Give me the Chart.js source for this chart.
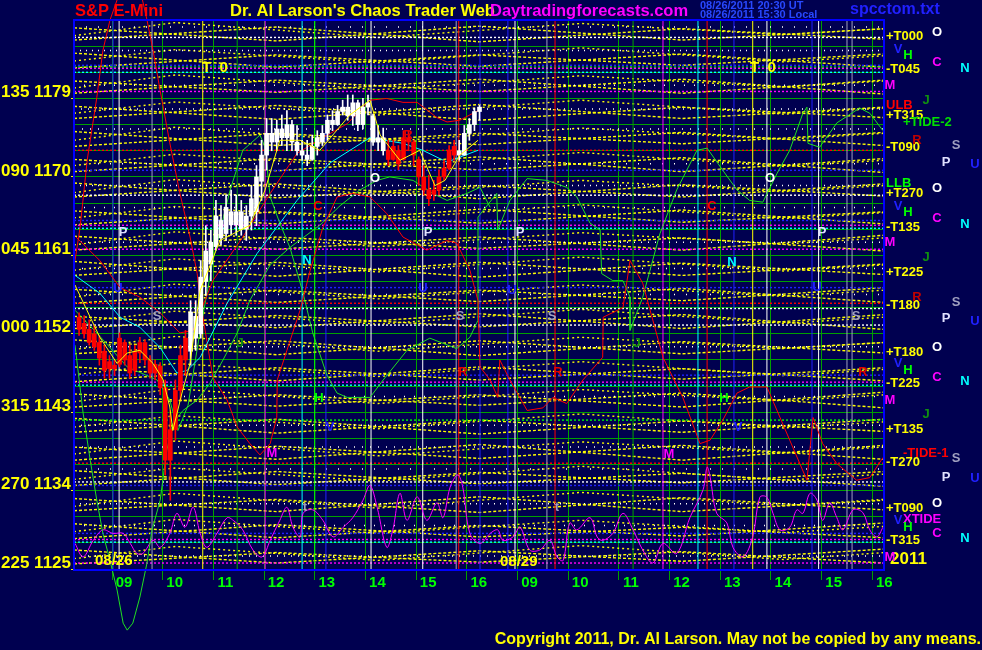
<!DOCTYPE html>
<html><head><meta charset="utf-8">
<script src="https://cdn.jsdelivr.net/npm/chart.js@4.4.0/dist/chart.umd.min.js"></script>
<style>html,body{margin:0;padding:0;background:#000050;overflow:hidden}#wrap{width:982px;height:650px;position:relative}</style>
</head><body><div id="wrap"><canvas id="c"></canvas></div>
<script>
// ---------- DATA ----------
const hourTicks = [0,1,2,3,4,5,6,7,8,9,10,11,12,13,14,15];
const hourLabels = ['09','10','11','12','13','14','15','16','09','10','11','12','13','14','15','16'];
const yLabelPrices = [1125,1134,1143,1152,1161,1170,1179];
const yLabelAngles = ['225','270','315','000','045','090','135'];
const gridPrices = [1125,1128,1131,1134,1137,1140,1143,1146,1149,1152,1155,1158,1161,1164,1167,1170,1173,1176,1179,1182,1185,1188];

const candleT = [-0.65,-0.55,-0.45,-0.35,-0.25,-0.15,-0.05,0.05,0.15,0.25,0.35,0.45,0.55,0.65,0.75,0.85,0.95,1.05,1.15,1.25,1.35,1.45,1.55,1.65,1.75,1.85,1.95,2.05,2.15,2.25,2.35,2.45,2.55,2.65,2.75,2.85,2.95,3.05,3.15,3.25,3.35,3.45,3.55,3.65,3.75,3.85,3.95,4.05,4.15,4.25,4.35,4.45,4.55,4.65,4.75,4.85,4.95,5.05,5.15,5.25,5.35,5.45,5.55,5.65,5.75,5.85,5.95,6.05,6.15,6.25,6.35,6.45,6.55,6.65,6.75,6.85,6.95,7.05,7.15,7.25];
const candleO = [1153.9,1153.2,1152.5,1152.0,1151.0,1150.0,1148.0,1148.4,1148.5,1151.0,1149.5,1147.8,1149.8,1151.0,1149.0,1147.5,1148.3,1145.8,1137.5,1141.0,1145.5,1149.0,1150.0,1154.0,1152.0,1158.0,1160.0,1162.0,1165.0,1163.5,1166.0,1164.5,1166.0,1164.0,1165.5,1166.0,1169.5,1172.5,1175.0,1174.0,1175.5,1174.5,1176.0,1174.0,1173.0,1172.5,1172.0,1173.5,1174.0,1175.0,1176.5,1176.0,1177.5,1178.0,1177.0,1178.5,1176.0,1178.0,1177.0,1174.0,1174.5,1173.0,1172.0,1173.0,1172.0,1174.5,1174.0,1172.0,1170.0,1168.5,1168.0,1168.5,1170.0,1171.0,1172.5,1173.0,1172.5,1175.0,1176.0,1177.5];
const candleH = [1154.4,1154.1,1153.6,1153.0,1151.8,1150.7,1149.5,1149.0,1152.1,1151.3,1150.7,1150.7,1151.6,1151.3,1149.5,1149.0,1148.7,1146.7,1143.2,1146.7,1150.7,1152.4,1155.8,1155.8,1160.4,1164.4,1163.9,1167.3,1166.7,1167.9,1168.5,1167.9,1167.3,1166.7,1169.0,1171.3,1174.2,1176.7,1176.7,1176.5,1177.1,1177.6,1176.5,1175.9,1174.2,1174.2,1174.8,1175.3,1175.9,1177.1,1177.6,1178.2,1178.8,1179.4,1179.4,1178.8,1179.0,1179.4,1177.2,1175.9,1175.6,1174.2,1174.2,1173.6,1175.3,1175.3,1174.2,1172.3,1171.3,1170.2,1169.6,1170.8,1171.9,1173.6,1174.2,1174.2,1175.9,1176.7,1177.9,1178.2];
const candleL = [1151.8,1151.5,1150.7,1150.1,1148.4,1146.9,1146.9,1147.2,1148.2,1148.4,1146.9,1147.2,1148.7,1148.4,1146.9,1146.7,1145.0,1135.8,1132.9,1139.8,1144.4,1147.2,1148.4,1150.1,1151.5,1156.4,1158.1,1161.6,1162.2,1162.7,1163.3,1163.3,1163.3,1162.7,1163.9,1164.4,1167.3,1170.8,1173.0,1173.0,1173.6,1173.0,1173.0,1172.5,1171.9,1171.3,1171.9,1172.5,1173.6,1174.2,1175.3,1175.9,1177.1,1176.5,1175.9,1175.3,1175.5,1177.1,1173.6,1173.0,1172.5,1171.3,1171.9,1170.8,1171.9,1173.0,1171.3,1169.0,1167.9,1166.7,1167.3,1167.9,1169.6,1170.8,1171.9,1171.9,1172.5,1174.2,1175.3,1176.5];
const candleC = [1152.5,1152.0,1151.0,1150.5,1149.2,1147.8,1148.8,1148.0,1151.5,1149.0,1147.5,1150.0,1151.0,1149.0,1147.5,1148.5,1145.8,1137.5,1141.0,1145.5,1149.5,1151.5,1154.5,1151.5,1158.5,1161.5,1162.5,1165.5,1163.0,1166.5,1164.5,1166.0,1164.0,1165.5,1167.5,1170.0,1172.5,1175.0,1174.0,1175.5,1174.5,1176.0,1174.0,1173.0,1172.5,1172.0,1173.5,1174.5,1175.0,1176.5,1176.0,1177.5,1178.0,1177.0,1178.5,1176.0,1178.0,1178.5,1174.0,1174.5,1173.0,1172.0,1173.5,1171.5,1174.5,1174.0,1172.5,1170.0,1168.5,1167.5,1168.5,1170.0,1171.0,1173.0,1173.5,1172.5,1175.0,1176.0,1177.5,1178.0];
const candleKind = ['R','R','R','R','R','R','R','R','R','R','R','R','R','R','R','R','R','R','R','R','R','R',
 'W','W','W','W','W','W','W','W','W','W','W','W','W','W','W','W','W','W','W','W','W','W','W','W','W','W','W','W','W','W','W','W','W','W','W','W','W','W','W',
 'R','R','R','R','R','R','R','R','R','R','R','R','R','R','W','W','W','W','W'];

const redFcX = [-0.73,-0.63,-0.49,-0.30,-0.18,-0.04,0.10,0.26,0.41,0.55,0.69,0.81,0.95,1.14,1.34,1.54,1.68,1.74,1.99,2.27,2.47,2.72,2.92,3.12,3.25,3.26,3.45,3.71,3.91,4.16,4.44,4.75,5.09,5.42,5.74,6.21,6.61,6.80,7.06,7.22,7.26,7.46,7.61,7.65,7.85,8.19,8.50,8.70,8.97,9.29,9.68,9.69,10.08,10.22,10.47,10.87,11.26,11.60,11.80,12.05,12.33,12.58,12.92,13.37,13.71,13.83,14.02,14.30,14.69,14.95,15.21];
const redFcY = [1160.4,1164.2,1171.9,1179.1,1184.5,1188.0,1190.3,1193.1,1193.7,1191.6,1188.0,1184.5,1179.9,1173.9,1168.1,1163.1,1158.9,1155.8,1147.0,1144.4,1141.3,1139.4,1138.1,1139.4,1142.4,1146.7,1150.1,1154.7,1159.3,1164.2,1167.7,1168.1,1167.7,1165.8,1163.1,1161.6,1162.7,1162.4,1159.3,1155.8,1148.2,1146.7,1144.7,1149.0,1146.7,1143.2,1143.5,1144.7,1144.0,1146.7,1149.3,1153.9,1155.0,1160.4,1157.8,1149.3,1144.7,1139.4,1139.8,1142.1,1145.2,1145.9,1145.9,1139.8,1135.2,1142.4,1139.4,1137.1,1135.2,1135.5,1137.8];
const redMaX = [-0.71,-0.24,0.16,0.55,0.95,1.34,1.60,1.99,2.58,3.12,3.65,4.16,4.64,5.09,5.42,5.74,6.02,6.41,6.61,6.86,7.22];
const redMaY = [1163.1,1160.4,1157.3,1156.2,1154.4,1152.1,1152.4,1158.1,1163.1,1168.1,1172.7,1174.5,1176.1,1178.8,1179.0,1178.55,1178.55,1176.8,1176.3,1176.5,1177.6];
const cyanX = [-0.73,-0.24,0.16,0.55,0.95,1.28,1.48,1.74,2.27,2.86,3.65,4.30,5.09,5.74,6.13,6.61,7.06,7.22];
const cyanY = [1158.7,1156.65,1153.9,1152.75,1150.4,1147.5,1147.8,1149.3,1155.5,1161.2,1167.3,1171.6,1174.5,1173.85,1173.05,1171.7,1172.7,1173.05];
const yellowX = [-0.73,-0.43,-0.24,0.10,0.30,0.55,0.81,1.01,1.14,1.20,1.38,1.54,1.74,2.13,2.72,3.02,3.31,3.71,4.10,4.69,5.09,5.29,5.68,6.07,6.37,6.57,6.86,7.22];
const yellowY = [1157.6,1153.9,1151.6,1148.6,1149.8,1150.1,1148.6,1146.7,1143.6,1140.9,1145.2,1148.6,1157.0,1162.7,1164.45,1168.5,1174.2,1174.2,1173.05,1177.1,1178.8,1174.8,1171.9,1173.05,1169.0,1169.6,1172.5,1174.2];
const greenAX = [-0.73,-0.57,-0.43,-0.30,-0.18,-0.04,0.10,0.22,0.30,0.41,0.55,0.69,0.79,0.95,1.08,1.20,1.40,1.68,1.93,2.19,2.47,2.72,3.12,3.51,4.10,4.50,4.89,5.23,5.48,5.94,6.33,6.61,7.00,7.26,7.46];
const greenAY = [1150.7,1142.9,1137.5,1132.9,1129.1,1126.0,1122.6,1118.8,1118.0,1118.8,1121.8,1125.7,1129.5,1132.9,1138.6,1141.7,1143.2,1144.4,1146.3,1149.0,1152.1,1155.85,1159.9,1161.9,1164.45,1166.7,1168.5,1169.6,1170.0,1169.6,1168.1,1167.3,1168.1,1168.8,1166.5];
const greenBX = [-0.73,-0.30,0.30,0.89,1.14,1.30,1.50,1.74,1.99,2.33,2.58,2.92,3.02,3.12,3.31,3.51,3.77,3.96,4.24,4.44,4.64,5.09,5.35,5.82,6.27,6.80,7.06,7.22,7.22,7.59,7.61,7.85,8.19,8.58,8.97,9.17,9.43,9.63,9.66,9.88,10.08,10.22,10.22,10.47,10.81,11.14,11.54,11.74,12.05,12.33,12.58,12.84,13.12,13.37,13.63,13.71,13.73,13.96,14.30,14.75,14.95,15.21];
const greenBY = [1154.7,1152.1,1148.2,1146.7,1144.4,1140.9,1143.8,1152.4,1160.4,1168.5,1173.05,1174.8,1173.4,1167.7,1164.7,1161.9,1156.65,1152.1,1147.25,1145.2,1144.7,1144.7,1146.7,1150.1,1151.5,1150.3,1151.6,1153.55,1165.4,1168.1,1163.9,1167.3,1169.8,1169.6,1168.8,1167.7,1164.7,1163.9,1158.9,1158.1,1158.1,1156.2,1152.4,1156.2,1163.5,1168.5,1173.05,1173.3,1170.75,1168.5,1167.3,1167.1,1170.4,1173.05,1177.3,1178.0,1173.85,1173.4,1176.2,1177.9,1177.3,1175.3];
const tideX = [-0.73,-0.57,-0.37,-0.18,0.02,0.22,0.36,0.49,0.61,0.81,0.95,1.14,1.28,1.44,1.60,1.74,1.87,2.07,2.27,2.39,2.58,2.78,2.96,3.12,3.31,3.45,3.57,3.71,3.77,3.96,4.16,4.36,4.56,4.75,4.95,5.09,5.23,5.42,5.54,5.68,5.82,6.02,6.21,6.41,6.53,6.67,6.82,6.92,7.06,7.26,7.46,7.61,7.71,7.91,8.05,8.24,8.44,8.64,8.78,8.90,9.03,9.17,9.43,9.57,9.68,9.88,10.08,10.28,10.47,10.67,10.87,11.14,11.40,11.66,11.74,11.80,11.93,12.13,12.25,12.45,12.64,12.78,12.92,13.04,13.18,13.37,13.51,13.63,13.77,13.91,14.02,14.16,14.30,14.42,14.62,14.81,14.95,15.09,15.21];
const tideY = [1127.95,1126.4,1128.3,1129.5,1129.1,1129.1,1127.95,1126.8,1126.8,1128.3,1127.5,1129.1,1131.4,1129.8,1132.1,1129.1,1127.5,1129.1,1130.9,1130.6,1129.5,1127.2,1126.4,1128.3,1130.6,1132.1,1129.8,1128.7,1131.4,1131.8,1130.6,1128.7,1129.8,1130.9,1132.9,1134.6,1132.1,1127.5,1129.5,1133.7,1130.6,1133.3,1130.6,1132.6,1130.9,1134.4,1135.8,1134.4,1129.1,1127.95,1129.1,1129.5,1128.3,1128.7,1129.8,1127.2,1127.2,1128.3,1126.4,1126.0,1130.3,1129.5,1130.9,1128.7,1128.3,1129.1,1131.4,1129.5,1127.2,1125.7,1127.95,1126.8,1130.9,1134.1,1136.7,1135.55,1131.4,1130.3,1127.5,1126.4,1128.7,1133.25,1133.25,1131.4,1129.5,1129.8,1131.8,1131.4,1133.7,1132.9,1130.6,1132.6,1130.9,1129.5,1131.8,1131.5,1129.5,1128.7,1129.8];

// vertical event lines (hour index), grouped by kind
const vWhite = [0.14,5.11,6.13,7.95,12.92,13.94];
const vGrey = [0.79,6.79,8.58,14.5,14.6];
const vBlue = [0.02,4.22,7.26,7.81,12.27,13.81];
const vYellow = [1.79,12.64];
const vGreen = [2.47,10.28];
const vBrightGreen = [4.0];
const vMagenta = [3.02,10.87];
const vCyan = [3.75,11.56];
const vRed = [6.84,8.74,11.74];
// horizontal level lines (price), grouped by kind
const hMagenta = [1182.45,1179.8,1164.45,1161.7,1146.45,1128.4,1125.7];
const hCyan = [1182.0,1164.1,1146.1,1128.1];
const hBlue = [1182.8,1170.75,1165.0,1157.3,1147.25,1134.6,1129.1];
const hWhite = [1186.0,1167.9,1154.9,1153.0,1135.0];
const hRed = [1173.05,1155.5,1137.15];
const hGreenDot = [1182.6,1142.1];
const hWhiteSpeck = [1126.5,1130.0,1132.5,1136.5,1139.0,1141.5,1144.8,1150.5,1156.5,1159.5,1162.5,1166.5,1169.0,1171.5,1175.5,1177.8,1180.5,1184.5,1187.2];
// yellow lattice lines
const latticeX = [-0.75,3.25,7.25,11.25,15.23];
const yellowLattice = [
 [1125.6,1126.9,1125.8,1127.0,1125.7],[1127.2,1125.7,1127.1,1125.9,1127.3],
 [1128.5,1130.1,1128.7,1129.8,1128.6],[1130.2,1128.6,1130.0,1128.8,1130.3],
 [1131.7,1133.0,1131.5,1133.2,1131.8],[1133.1,1131.6,1133.3,1131.6,1132.9],
 [1134.6,1136.2,1134.8,1136.0,1134.5],[1136.3,1134.7,1136.1,1134.9,1136.2],
 [1137.5,1139.1,1137.7,1139.2,1137.6],[1139.0,1137.6,1139.3,1137.5,1139.2],
 [1140.7,1142.2,1140.5,1142.0,1140.8],[1142.3,1140.6,1142.1,1140.7,1142.2],
 [1143.6,1145.0,1143.8,1145.2,1143.5],[1145.1,1143.7,1145.0,1143.6,1145.3],
 [1146.5,1148.1,1146.7,1148.0,1146.6],[1148.2,1146.6,1148.2,1146.8,1148.1],
 [1149.7,1151.2,1149.5,1151.1,1149.8],[1151.3,1149.6,1151.2,1149.7,1151.0],
 [1152.6,1154.1,1152.8,1154.2,1152.5],[1154.0,1152.7,1154.3,1152.6,1154.2],
 [1155.5,1157.0,1155.7,1157.2,1155.6],[1157.1,1155.6,1157.0,1155.8,1157.3],
 [1158.7,1160.2,1158.5,1160.1,1158.8],[1160.3,1158.6,1160.2,1158.7,1160.0],
 [1161.6,1163.1,1161.8,1163.0,1161.5],[1163.2,1161.7,1163.1,1161.6,1163.3],
 [1164.5,1166.0,1164.7,1166.2,1164.6],[1166.1,1164.6,1166.3,1164.8,1166.0],
 [1167.7,1169.2,1167.5,1169.1,1167.8],[1169.3,1167.6,1169.0,1167.7,1169.2],
 [1170.6,1172.1,1170.8,1172.2,1170.5],[1172.0,1170.7,1172.3,1170.6,1172.1],
 [1173.5,1175.0,1173.7,1175.1,1173.6],[1175.2,1173.6,1175.0,1173.8,1175.1],
 [1176.7,1178.2,1176.5,1178.0,1176.8],[1178.1,1176.6,1178.3,1176.7,1178.0],
 [1179.6,1181.1,1179.8,1181.2,1179.5],[1181.0,1179.7,1181.2,1179.6,1181.1],
 [1182.5,1184.0,1182.7,1184.1,1182.6],[1184.2,1182.6,1184.0,1182.8,1184.1],
 [1185.7,1187.2,1185.5,1187.0,1185.8],[1187.1,1185.6,1187.3,1185.7,1187.0]
];
const latticeX2 = [-0.75,1.25,5.25,9.25,13.25,15.23];
const yellowLattice2 = [
 [1126.2,1127.6,1126.0,1127.7,1126.1,1126.9],[1129.3,1130.7,1129.1,1130.6,1129.2,1129.9],
 [1132.2,1133.7,1132.0,1133.8,1132.3,1133.0],[1135.3,1136.6,1135.1,1136.8,1135.2,1135.9],
 [1138.2,1139.7,1138.0,1139.6,1138.3,1139.0],[1141.3,1142.6,1141.1,1142.8,1141.2,1141.9],
 [1144.2,1145.7,1144.0,1145.6,1144.3,1145.0],[1147.3,1148.6,1147.1,1148.8,1147.2,1147.9],
 [1150.2,1151.7,1150.0,1151.6,1150.3,1151.0],[1153.3,1154.6,1153.1,1154.8,1153.2,1153.9],
 [1156.2,1157.7,1156.0,1157.6,1156.3,1157.0],[1159.3,1160.6,1159.1,1160.8,1159.2,1159.9],
 [1162.2,1163.7,1162.0,1163.6,1162.3,1163.0],[1165.3,1166.6,1165.1,1166.8,1165.2,1165.9],
 [1168.2,1169.7,1168.0,1169.6,1168.3,1169.0],[1171.3,1172.6,1171.1,1172.8,1171.2,1171.9],
 [1174.2,1175.7,1174.0,1175.6,1174.3,1175.0],[1177.3,1178.6,1177.1,1178.8,1177.2,1177.9],
 [1180.2,1181.7,1180.0,1181.6,1180.3,1181.0],[1183.3,1184.6,1183.1,1184.8,1183.2,1183.9],
 [1186.2,1187.7,1186.0,1187.6,1186.3,1187.0]
];

// ---------- LAYOUT / STYLE ----------
const X0 = -0.75, X1 = 15.23, Y0 = 1124.9, Y1 = 1188.0;
const FONT = "'Liberation Sans', Arial, Helvetica, sans-serif";
const C = {bg:'#000050', yellow:'#ffff00', white:'#ffffff', grey:'#a0a0c0', blue:'#2020ff', green:'#00a000',
  bgreen:'#00ff00', magenta:'#ff00ff', cyan:'#00ffff', red:'#ff0000', border:'#0000ff'};
const speckDashes = [[1,6],[1,9],[1,5],[1,11],[1,7]];

const textMarks = [
 ['S&P E-Mini', C.red, 75, 11, 16.5, 'left'],
 ["Dr. Al Larson's Chaos Trader Web", C.yellow, 230, 11, 16.5, 'left'],
 ['Daytradingforecasts.com', C.magenta, 490, 11, 16.5, 'left'],
 ['08/26/2011 20:30 UT', '#2848ff', 700, 6, 11, 'left'],
 ['08/26/2011 15:30 Local', '#2848ff', 700, 15, 11, 'left'],
 ['spcctom.txt', '#2020ff', 850, 10, 16, 'left'],
 ['Copyright 2011, Dr. Al Larson. May not be copied by any means.', C.yellow, 981, 640, 16, 'right'],
 ['T  0', C.yellow, 202, 68, 15, 'left'], ['T  0', C.yellow, 750, 68, 15, 'left'],
 ['O', C.white, 375, 178, 13, 'center'], ['O', C.white, 770, 178, 13, 'center'],
 ['P', '#e0e0ff', 123, 232, 13, 'center'], ['P', '#e0e0ff', 428, 232, 13, 'center'], ['P', '#e0e0ff', 520, 232, 13, 'center'], ['P', '#e0e0ff', 822, 232, 13, 'center'],
 ['N', C.cyan, 307, 260, 13, 'center'], ['N', C.cyan, 732, 262, 13, 'center'],
 ['C', C.red, 318, 206, 13, 'center'], ['C', C.red, 712, 206, 13, 'center'],
 ['S', C.grey, 157, 316, 13, 'center'], ['S', C.grey, 460, 316, 13, 'center'], ['S', C.grey, 552, 316, 13, 'center'], ['S', C.grey, 856, 316, 13, 'center'],
 ['U', C.blue, 118, 288, 13, 'center'], ['U', C.blue, 423, 288, 13, 'center'], ['U', C.blue, 512, 290, 13, 'center'], ['U', C.blue, 817, 287, 13, 'center'],
 ['J', '#109010', 240, 343, 13, 'center'], ['J', '#109010', 637, 343, 13, 'center'],
 ['H', C.bgreen, 319, 398, 13, 'center'], ['H', C.bgreen, 724, 398, 13, 'center'],
 ['V', C.blue, 330, 427, 13, 'center'], ['V', C.blue, 738, 427, 13, 'center'],
 ['M', C.magenta, 272, 453, 13, 'center'], ['M', C.magenta, 669, 454, 13, 'center'],
 ['R', '#e00000', 408, 135, 13, 'center'], ['R', '#e00000', 463, 372, 13, 'center'], ['R', '#e00000', 558, 372, 13, 'center'], ['R', '#e00000', 863, 372, 13, 'center'],
 ['t', C.grey, 305, 508, 12, 'center'], ['t', C.grey, 557, 508, 12, 'center'],
 ['08/26', C.yellow, 95, 561, 15, 'left'], ['08/29', C.yellow, 500, 562, 15, 'left'],
 ['+T000', C.yellow, 886, 36, 13, 'left'], ['-T045', C.yellow, 886, 69, 13, 'left'],
 ['+T315', C.yellow, 886, 115, 13, 'left'], ['-T090', C.yellow, 886, 147, 13, 'left'],
 ['+T270', C.yellow, 886, 193, 13, 'left'], ['-T135', C.yellow, 886, 227, 13, 'left'],
 ['+T225', C.yellow, 886, 272, 13, 'left'], ['-T180', C.yellow, 886, 305, 13, 'left'],
 ['+T180', C.yellow, 886, 352, 13, 'left'], ['-T225', C.yellow, 886, 383, 13, 'left'],
 ['+T135', C.yellow, 886, 429, 13, 'left'], ['-T270', C.yellow, 886, 462, 13, 'left'],
 ['+T090', C.yellow, 886, 508, 13, 'left'], ['-T315', C.yellow, 886, 540, 13, 'left'],
 ['ULB', C.red, 886, 105, 13, 'left'], ['LLB', C.bgreen, 886, 183, 13, 'left'],
 ['+TIDE-2', '#00e000', 903, 122, 13, 'left'], ['-TIDE-1', C.red, 903, 453, 13, 'left'],
 ['XTIDE', C.magenta, 903, 519, 13, 'left'], ['2011', C.yellow, 890, 559, 17, 'left'],
 ['O', C.white, 937, 32, 13, 'center'], ['O', C.white, 937, 188, 13, 'center'], ['O', C.white, 937, 347, 13, 'center'], ['O', C.white, 937, 503, 13, 'center'],
 ['V', C.blue, 898, 49, 13, 'center'], ['V', C.blue, 898, 206, 13, 'center'], ['V', C.blue, 898, 363, 13, 'center'], ['V', C.blue, 898, 520, 13, 'center'],
 ['H', C.bgreen, 908, 55, 13, 'center'], ['H', C.bgreen, 908, 212, 13, 'center'], ['H', C.bgreen, 908, 370, 13, 'center'], ['H', C.bgreen, 908, 527, 13, 'center'],
 ['C', C.magenta, 937, 62, 13, 'center'], ['C', C.magenta, 937, 218, 13, 'center'], ['C', C.magenta, 937, 377, 13, 'center'], ['C', C.magenta, 937, 533, 13, 'center'],
 ['N', C.cyan, 965, 68, 13, 'center'], ['N', C.cyan, 965, 224, 13, 'center'], ['N', C.cyan, 965, 381, 13, 'center'], ['N', C.cyan, 965, 538, 13, 'center'],
 ['M', C.magenta, 890, 85, 13, 'center'], ['M', C.magenta, 890, 242, 13, 'center'], ['M', C.magenta, 890, 400, 13, 'center'], ['M', C.magenta, 890, 557, 13, 'center'],
 ['J', '#109010', 926, 100, 13, 'center'], ['J', '#109010', 926, 257, 13, 'center'], ['J', '#109010', 926, 414, 13, 'center'],
 ['R', '#c00000', 917, 140, 13, 'center'], ['R', '#c00000', 917, 297, 13, 'center'],
 ['S', C.grey, 956, 145, 13, 'center'], ['S', C.grey, 956, 302, 13, 'center'], ['S', C.grey, 956, 458, 13, 'center'],
 ['P', '#e0e0ff', 946, 162, 13, 'center'], ['P', '#e0e0ff', 946, 318, 13, 'center'], ['P', '#e0e0ff', 946, 477, 13, 'center'],
 ['U', C.blue, 975, 164, 13, 'center'], ['U', C.blue, 975, 321, 13, 'center'], ['U', C.blue, 975, 478, 13, 'center']
];

// ---------- DATASETS ----------
function seg(points, color, opt) {
  return Object.assign({type:'line', data:points, borderColor:color, borderWidth:1, pointRadius:0,
    fill:false, tension:0}, opt || {});
}
const ds = [];
yellowLattice.forEach(row => ds.push(seg(latticeX.map((x, j) => ({x, y:row[j]})), C.yellow, {borderDash:[3,2], borderWidth:1.4, order:100})));
yellowLattice2.forEach(row => ds.push(seg(latticeX2.map((x, j) => ({x, y:row[j]})), C.yellow, {borderDash:[2,3], borderWidth:1.4, order:100})));
hWhiteSpeck.forEach((p, k) => ds.push(seg([{x:X0, y:p}, {x:X1, y:p}], C.white, {borderDash:speckDashes[k % speckDashes.length], borderWidth:1.5, order:95})));
[[hWhite, C.white], [hMagenta, C.magenta], [hCyan, C.cyan], [hBlue, C.blue], [hRed, C.red], [hGreenDot, C.bgreen]].forEach(([arr, col]) =>
  arr.forEach(p => ds.push(seg([{x:X0, y:p}, {x:X1, y:p}], col, {borderDash:[2,2], borderWidth:1.4, order:90}))));
[[vWhite, C.white], [vGrey, C.grey], [vBlue, C.blue], [vYellow, C.yellow], [vGreen, C.green], [vBrightGreen, C.bgreen],
 [vMagenta, C.magenta], [vCyan, C.cyan], [vRed, C.red]].forEach(([arr, col]) =>
  arr.forEach(v => ds.push(seg([{x:v, y:Y0}, {x:v, y:Y1}], col, {order:80}))));
function curve(xs, ys, col, opt) { return seg(xs.map((x, j) => ({x, y:ys[j]})), col, Object.assign({order:40, clip:false}, opt || {})); }
ds.push(curve(tideX, tideY, C.magenta, {tension:0.35, order:45}));
ds.push(curve(redFcX, redFcY, C.red));
ds.push(curve(greenAX, greenAY, '#20e020'));
ds.push(curve(greenBX, greenBY, '#20e020'));
ds.push(curve(cyanX, cyanY, C.cyan, {order:30}));
ds.push(curve(redMaX, redMaY, C.red, {order:30}));
ds.push(curve(yellowX, yellowY, C.yellow, {order:5}));
const candleCol = candleKind.map(k => k === 'R' ? C.red : C.white);
ds.push({type:'bar', data:candleT.map((t, k) => ({x:t, y:[candleL[k], candleH[k]]})), backgroundColor:candleCol,
  barThickness:1, grouped:false, order:11});
ds.push({type:'bar', data:candleT.map((t, k) => ({x:t, y:[candleO[k], candleC[k]]})), backgroundColor:candleCol,
  barThickness:4, grouped:false, minBarLength:1, order:10});

// ---------- PLUGIN ----------
const decor = {
  id:'decor',
  beforeDraw(chart) { const c = chart.ctx; c.save(); c.fillStyle = C.bg; c.fillRect(0, 0, chart.width, chart.height); c.restore(); },
  afterDatasetsDraw(chart) {
    const c = chart.ctx, a = chart.chartArea;
    c.save();
    c.strokeStyle = C.border; c.lineWidth = 2;
    c.strokeRect(a.left, a.top, a.right - a.left, a.bottom - a.top);
    c.textBaseline = 'middle';
    textMarks.forEach(([s, col, x, y, size, align]) => {
      c.font = 'bold ' + size + 'px ' + FONT; c.fillStyle = col; c.textAlign = align; c.fillText(s, x, y);
    });
    c.restore();
  }
};

new Chart(document.getElementById('c'), {
  type:'line',
  data:{datasets:ds},
  options:{
    responsive:true, maintainAspectRatio:false, animation:false, devicePixelRatio:1, events:[],
    layout:{padding:{top:20, right:98, left:0, bottom:0}},
    plugins:{legend:{display:false}, tooltip:{enabled:false}},
    scales:{
      x:{type:'linear', min:X0, max:X1, offset:false,
        afterBuildTicks:s => { s.ticks = hourTicks.map(v => ({value:v})); },
        afterFit:s => { s.height = 80; },
        grid:{color:C.green, tickLength:10, tickColor:C.green, lineWidth:1, offset:false},
        border:{display:false},
        ticks:{autoSkip:false, maxRotation:0, color:C.bgreen, font:{family:FONT, weight:'bold', size:15},
          padding:-6, labelOffset:12, callback:(v, i) => hourLabels[i]}},
      y:{type:'linear', min:Y0, max:Y1, offset:false,
        afterBuildTicks:s => { s.ticks = gridPrices.map(v => ({value:v})); },
        afterFit:s => { s.width = 74; },
        grid:{color:C.green, tickLength:3, lineWidth:1,
          tickColor:ctx => (ctx.tick && yLabelPrices.includes(ctx.tick.value)) ? C.yellow : 'rgba(0,0,0,0)'},
        border:{display:false},
        ticks:{autoSkip:false, color:C.yellow, font:{family:FONT, weight:'bold', size:17}, padding:0, labelOffset:-6,
          callback:v => { const k = yLabelPrices.indexOf(v); return k < 0 ? '' : yLabelAngles[k] + ' ' + v; }}}
    }
  },
  plugins:[decor]
});
</script></body></html>
